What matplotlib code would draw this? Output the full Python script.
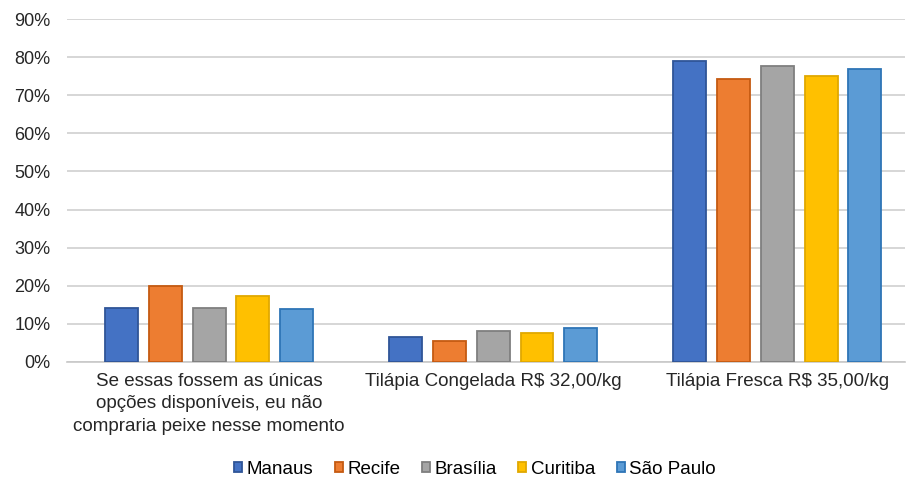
import matplotlib
matplotlib.use("Agg")
import matplotlib.pyplot as plt
import numpy as np

plt.rcParams['font.family'] = ['Liberation Sans', 'DejaVu Sans']

categories = ["Se essas fossem as únicas\nopções disponíveis, eu não\ncompraria peixe nesse momento",
              "Tilápia Congelada R$ 32,00/kg",
              "Tilápia Fresca R$ 35,00/kg"]
cities = ["Manaus", "Recife", "Brasília", "Curitiba", "São Paulo"]
manaus = [14.2, 6.6, 79.0]
recife = [20.0, 5.5, 74.3]
brasilia = [14.2, 8.1, 77.7]
curitiba = [17.3, 7.6, 75.0]
sao_paulo = [13.9, 8.9, 76.9]
series = [manaus, recife, brasilia, curitiba, sao_paulo]
colors = ["#4472C4", "#ED7D31", "#A5A5A5", "#FFC000", "#5B9BD5"]
edges = ["#2F5597", "#C55A11", "#7F7F7F", "#E0A800", "#2E75B6"]
yticks = [0, 10, 20, 30, 40, 50, 60, 70, 80, 90]

fig = plt.figure(figsize=(9.07, 4.79), dpi=100)
ax = fig.add_axes([67/907, 1-362/479, (905-67)/907, (362-19)/479])

x = np.arange(len(categories))
w = 0.116
step = 0.154
for i, (vals, c, e, name) in enumerate(zip(series, colors, edges, cities)):
    ax.bar(x + (i-2)*step, vals, width=w, color=c, edgecolor=e, linewidth=1.3, label=name, zorder=3)

ax.set_ylim(0, 90)
ax.set_xlim(-0.5, 2.449)
ax.set_yticks(yticks)
ax.set_yticklabels([f"{t}%" for t in yticks], fontsize=13, color="#262626")
ax.set_xticks(x)
ax.set_xticklabels(categories, fontsize=13.5, color="#262626", linespacing=1.4)
ax.tick_params(axis='both', length=0)
ax.tick_params(axis='y', pad=12)
ax.tick_params(axis='x', pad=8)
ax.grid(axis='y', color="#D0D0D0", linewidth=1.2, zorder=0)
for s in ['left', 'right', 'top']:
    ax.spines[s].set_visible(False)
ax.spines['bottom'].set_color("#C8C8C8")
ax.spines['bottom'].set_linewidth(1.2)

leg = fig.legend(loc='center', bbox_to_anchor=(475/907, 1-469/479), ncol=5, frameon=False,
                 fontsize=13.5, handlelength=0.42, handleheight=0.42, handletextpad=0.25, columnspacing=1.15)
fig.savefig("out.png", dpi=100)
